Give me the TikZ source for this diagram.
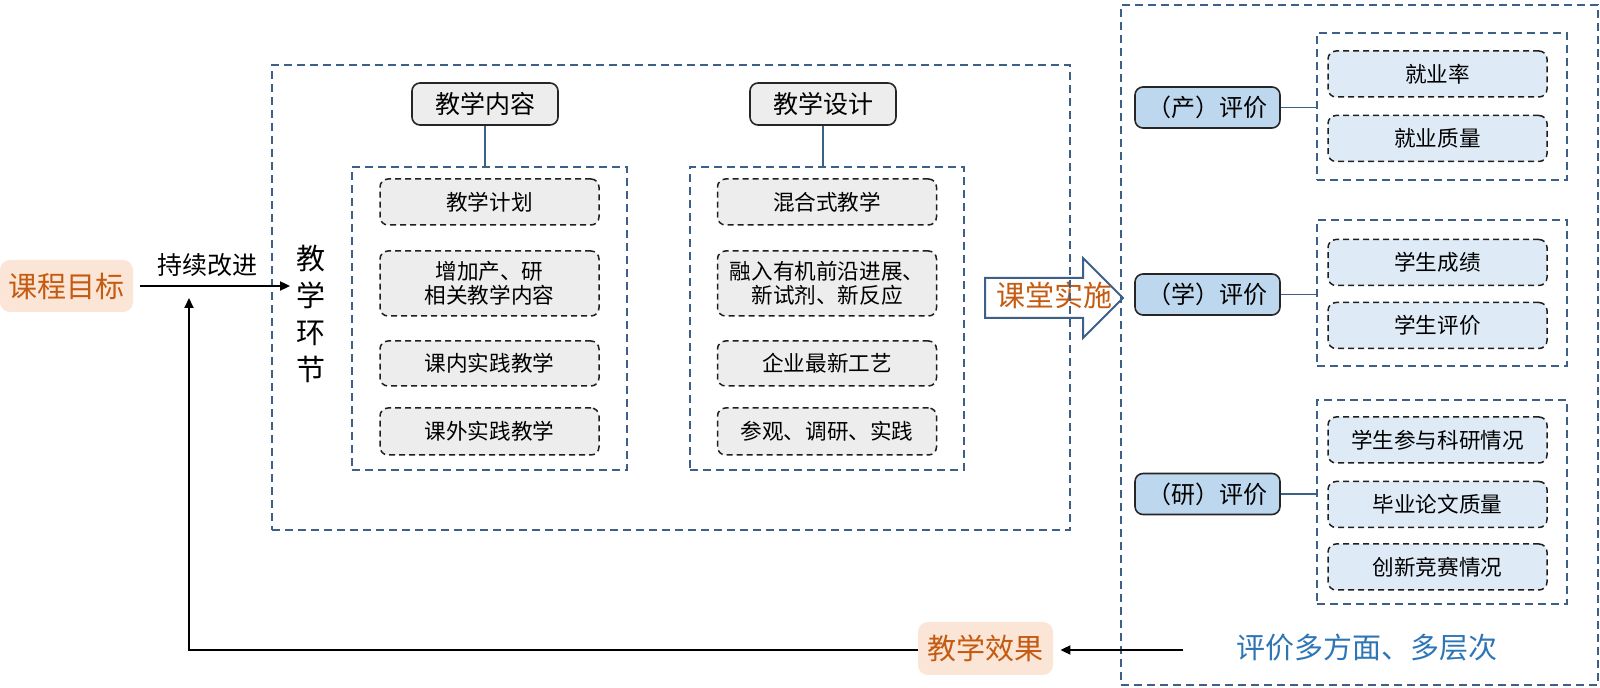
\documentclass[tikz,border=0pt]{standalone}
\usepackage{fontspec}
\setmainfont{Noto Sans CJK SC}
\usetikzlibrary{arrows.meta, positioning, calc}
\definecolor{frameblue}{HTML}{3D6089}
\definecolor{headgray}{HTML}{EDEDED}
\definecolor{judgeblue}{HTML}{BDD7EE}
\definecolor{subblue}{HTML}{DEEBF7}
\definecolor{peach}{HTML}{FBE5D6}
\definecolor{rust}{HTML}{C55A11}
\definecolor{textblue}{HTML}{2E75B6}

\begin{document}
\begin{tikzpicture}[x=0.5pt, y=-0.5pt,
  every node/.style={font=\fontsize{10.8}{12.3}\selectfont, inner sep=0pt},
  frame/.style={draw=frameblue, line width=1pt, dash pattern=on 4pt off 2.5pt},
  head/.style={draw=black!85, line width=0.8pt, fill=headgray, rounded corners=4pt,
    minimum width=73pt, minimum height=21pt, font=\fontsize{12.5}{15}\selectfont},
  item/.style={draw=black!88, line width=0.75pt, dash pattern=on 3pt off 2pt, rounded corners=4pt,
    fill=headgray, minimum width=109.5pt, minimum height=23pt, align=center},
  judge/.style={draw=black!85, line width=0.8pt, fill=judgeblue, rounded corners=4pt,
    minimum width=72.5pt, minimum height=20.5pt, font=\fontsize{12}{14}\selectfont},
  sub/.style={item, fill=subblue},
  tag/.style={fill=peach, rounded corners=5pt, text=rust, font=\fontsize{14.5}{17}\selectfont},
  tie/.style={draw=frameblue, line width=0.9pt},
  flow/.style={line width=0.9pt, -{Triangle[length=5pt, width=4.5pt]}}
]
\useasboundingbox (0,0) rectangle (1600,688);
\draw[draw=frameblue, line width=1pt, line join=miter]
  (985,278) -- (1083,278) -- (1083,258) -- (1123,298) -- (1083,338) -- (1083,318) -- (985,318) -- cycle;
\node[text=rust, font=\fontsize{14.5}{17}\selectfont] (impl) at (1054,295) {课堂实施};
\node[frame, minimum width=399pt, minimum height=232.5pt] (stage) at (671,297.5) {};
\node[frame, minimum width=137.5pt, minimum height=151.5pt] (box1) at (489.5,318.5) {};
\node[frame, minimum width=137pt, minimum height=151.5pt] (box2) at (827,318.5) {};
\node[head] (head1) at (485,104) {教学内容};
\node[head] (head2) at (823,104) {教学设计};
\draw[tie] (head1.south) -- (head1.south |- box1.north);
\draw[tie] (head2.south) -- (head2.south |- box2.north);
\foreach \n/\y/\h/\t in {a/202/23pt/教学计划, b/283.5/32.5pt/{增加产、研\\相关教学内容},
  c/363.5/22.5pt/课内实践教学, d/431.5/23.5pt/课外实践教学}{
  \node[item, minimum height=\h] (con\n) at (489.5,\y) {\t};
}
\foreach \n/\y/\h/\t in {a/202/23pt/混合式教学, b/283.5/32.5pt/{融入有机前沿进展、\\新试剂、新反应},
  c/363.5/22.5pt/企业最新工艺, d/431.5/23.5pt/参观、调研、实践}{
  \node[item, minimum height=\h] (des\n) at (827,\y) {\t};
}
\node[font=\fontsize{14.5}{18.5}\selectfont, align=center] (link) at (311,313.5) {教\\学\\环\\节};
\node[tag, minimum width=66.5pt, minimum height=26pt] (goal) at (66.5,286) {课程目标};
\draw[flow] ([xshift=3.5pt]goal.east) -- ([xshift=-3pt]link.west |- goal.east)
  node[pos=0.45, above=4pt, font=\fontsize{12.5}{15}\selectfont] (keep) {持续改进};
\node[frame, minimum width=238.5pt, minimum height=340pt] (eval) at (1359.5,345) {};
\node[frame, minimum width=125pt, minimum height=73.5pt] (setp) at (1442,106.5) {};
\node[frame, minimum width=125pt, minimum height=73pt] (setl) at (1442,293) {};
\node[frame, minimum width=125pt, minimum height=102pt] (setr) at (1442,502) {};
\foreach \n/\y/\t in {p/107.5/产, l/294.5/学, r/494/研}{
  \node[judge] (judge\n) at (1207.5,\y) {（\t）评价};
  \draw[tie] (judge\n.east) -- (judge\n.east -| set\n.west);
}
\foreach \n/\y/\t in {p1/74/就业率, p2/138.5/就业质量, l1/262.5/学生成绩, l2/325.5/学生评价,
  r1/440/学生参与科研情况, r2/504.5/毕业论文质量, r3/567/创新竞赛情况}{
  \node[sub] (sub\n) at (1437.5,\y) {\t};
}
\node[text=textblue, font=\fontsize{14.5}{17}\selectfont] (multi) at (1367,648) {评价多方面、多层次};
\node[tag, minimum width=67.5pt, minimum height=26.5pt] (result) at (985.5,648.5) {教学效果};
\coordinate (src) at (1183,650);
\coordinate (loop) at (189,298);
\draw[flow] (src) -- ([xshift=3.5pt]result.east |- src);
\draw[flow] (result.west |- src) -| (loop);
\end{tikzpicture}
\end{document}
